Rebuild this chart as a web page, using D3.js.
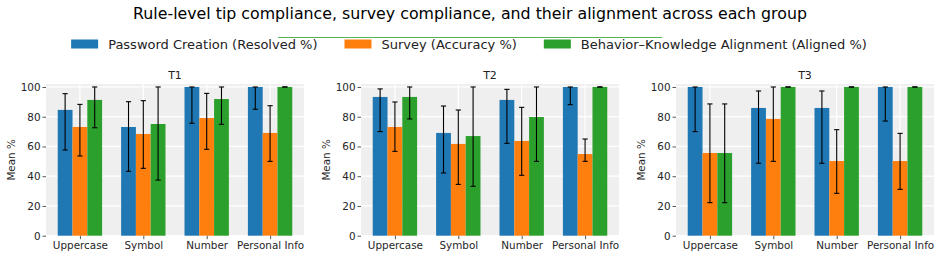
<!DOCTYPE html>
<html>
<head>
<meta charset="utf-8">
<script src="https://cdn.jsdelivr.net/npm/d3@7"></script>
<style>
  body { margin: 0; background: #fff; }
  svg { font-family: "DejaVu Sans", sans-serif; display: block; }
</style>
</head>
<body>
<svg></svg>
<script>
const groups = ['T1', 'T2', 'T3'];
const rules = ['Uppercase', 'Symbol', 'Number', 'Personal Info'];
const seriesNames = ['Password Creation (Resolved %)', 'Survey (Accuracy %)', 'Behavior\u2013Knowledge Alignment (Aligned %)'];
const colors = ['#1f77b4', '#ff7f0e', '#2ca02c'];
const yTicks = [0, 20, 40, 60, 80, 100];

// one row per group (T1..T3), one value per rule
const pwMean = [[84.6, 73.1, 100, 100], [93.3, 69.1, 91.3, 100], [100, 85.9, 85.9, 100]];
const pwLow  = [[57.6, 43.3, 75.6, 85.0], [70.0, 42.2, 62.1, 88.1], [70.0, 48.7, 48.7, 77.1]];
const pwHigh = [[95.5, 90.1, 100, 100], [98.7, 87.2, 98.4, 100], [100, 97.3, 97.3, 100]];

const svMean = [[73.1, 68.4, 79.1, 69.1], [73.1, 61.7, 63.7, 54.9], [55.6, 78.5, 50.2, 50.2]];
const svLow  = [[53.6, 45.3, 58.1, 50.0], [56.7, 34.5, 40.6, 50.0], [22.2, 50.0, 28.5, 31.2]];
const svHigh = [[88.3, 90.8, 95.7, 87.4], [89.9, 84.5, 86.3, 65.0], [88.6, 100, 71.3, 68.8]];

const alMean = [[91.3, 75.1, 91.9, 100], [93.3, 67.0, 79.8, 100], [55.6, 100, 100, 100]];
const alLow  = [[72.6, 37.4, 74.9, 100], [78.5, 33.2, 50.0, 100], [22.2, 100, 100, 100]];
const alHigh = [[100, 100, 100, 100], [100, 100, 100, 100], [88.6, 100, 100, 100]];

const means = [pwMean, svMean, alMean],
	lows = [pwLow, svLow, alLow],
	highs = [pwHigh, svHigh, alHigh];

const svg = d3.select('svg')
	.attr('width', 940)
	.attr('height', 260);

const panelLeft = [46, 361, 676],
	panelWidth = 258,
	plotTop = 84,
	plotBottom = 235.7,
	groupWidth = 0.7,
	barWidth = groupWidth / 3,
	pad = 0.05 * (rules.length - 1 + groupWidth),
	tickFont = 10.4;

const yScale = d3.scaleLinear()
	.domain([0, 102])
	.range([plotBottom, plotTop]);

// title
svg.append('text')
	.attr('x', 470)
	.attr('y', 19)
	.attr('text-anchor', 'middle')
	.attr('font-size', 15.8)
	.attr('fill', '#000')
	.text('Rule-level tip compliance, survey compliance, and their alignment across each group');

// stray line above the legend
svg.append('line')
	.attr('x1', 278).attr('x2', 662)
	.attr('y1', 37.5).attr('y2', 37.5)
	.attr('stroke', '#2ca02c')
	.attr('stroke-width', 0.8);

// legend
const legend = svg.append('g');
let lx = 0;
seriesNames.forEach((name, i) => {
	const g = legend.append('g');
	g.append('rect')
		.attr('x', 0).attr('y', -4.5)
		.attr('width', 27).attr('height', 9)
		.attr('fill', colors[i]);
	const t = g.append('text')
		.attr('x', 37).attr('y', 4.5)
		.attr('font-size', 13)
		.attr('fill', '#222')
		.text(name);
	const w = 37 + t.node().getComputedTextLength();
	g.attr('transform', `translate(${lx}, 0)`);
	lx += w + 27;
});
const legendWidth = lx - 27;
legend.attr('transform', `translate(${469 - legendWidth / 2}, 44)`);

groups.forEach((grp, gi) => {
	const xScale = d3.scaleLinear()
		.domain([-groupWidth / 2 - pad, rules.length - 1 + groupWidth / 2 + pad])
		.range([panelLeft[gi], panelLeft[gi] + panelWidth]);

	const g = svg.append('g');

	g.append('rect')
		.attr('x', panelLeft[gi]).attr('y', plotTop)
		.attr('width', panelWidth).attr('height', plotBottom - plotTop)
		.attr('fill', '#efefef');

	// grid
	g.selectAll('.hgrid').data(yTicks).join('line')
		.attr('x1', panelLeft[gi]).attr('x2', panelLeft[gi] + panelWidth)
		.attr('y1', d => yScale(d)).attr('y2', d => yScale(d))
		.attr('stroke', '#fff').attr('stroke-width', 1.2);
	g.selectAll('.vgrid').data(rules.map((r, i) => i)).join('line')
		.attr('x1', d => xScale(d)).attr('x2', d => xScale(d))
		.attr('y1', plotTop).attr('y2', plotBottom)
		.attr('stroke', '#fff').attr('stroke-width', 1.2);

	// bars
	means.forEach((m, si) => {
		const off = (si - 1) * barWidth;
		g.selectAll('.bar' + si).data(m[gi]).join('rect')
			.attr('x', (d, i) => xScale(i + off - barWidth / 2))
			.attr('width', xScale(barWidth) - xScale(0))
			.attr('y', d => yScale(d))
			.attr('height', d => yScale(0) - yScale(d))
			.attr('fill', colors[si]);
	});

	// error bars
	means.forEach((m, si) => {
		const off = (si - 1) * barWidth;
		rules.forEach((r, i) => {
			const cx = xScale(i + off),
				lo = yScale(lows[si][gi][i]),
				hi = yScale(highs[si][gi][i]);
			g.append('line')
				.attr('x1', cx).attr('x2', cx).attr('y1', lo).attr('y2', hi)
				.attr('stroke', '#000').attr('stroke-width', 1.1);
			[lo, hi].forEach(yy => g.append('line')
				.attr('x1', cx - 2.6).attr('x2', cx + 2.6).attr('y1', yy).attr('y2', yy)
				.attr('stroke', '#000').attr('stroke-width', 1.1));
		});
	});

	// axes
	const xAxis = d3.axisBottom(xScale)
		.tickValues(rules.map((r, i) => i))
		.tickFormat(i => rules[i])
		.tickSize(3.5)
		.tickPadding(2.5);
	const xAxisG = g.append('g')
		.attr('transform', `translate(0, ${plotBottom})`)
		.call(xAxis);
	xAxisG.select('.domain').remove();
	xAxisG.selectAll('.tick line').attr('stroke', '#555');
	xAxisG.selectAll('text').attr('font-size', tickFont).attr('fill', '#262626').attr('font-family', 'DejaVu Sans');

	const yAxis = d3.axisLeft(yScale)
		.tickValues(yTicks)
		.tickSize(3.5)
		.tickPadding(2);
	const yAxisG = g.append('g')
		.attr('transform', `translate(${panelLeft[gi]}, 0)`)
		.call(yAxis);
	yAxisG.select('.domain').remove();
	yAxisG.selectAll('.tick line').attr('stroke', '#555');
	yAxisG.selectAll('text').attr('font-size', tickFont).attr('fill', '#262626').attr('font-family', 'DejaVu Sans');

	g.append('text')
		.attr('transform', `translate(${panelLeft[gi] - 31}, ${(plotTop + plotBottom) / 2}) rotate(-90)`)
		.attr('text-anchor', 'middle')
		.attr('font-size', 10.4)
		.attr('fill', '#262626')
		.text('Mean %');

	g.append('text')
		.attr('x', panelLeft[gi] + panelWidth / 2)
		.attr('y', 79)
		.attr('text-anchor', 'middle')
		.attr('font-size', 11)
		.attr('fill', '#222')
		.text(grp);
});
</script>
</body>
</html>
